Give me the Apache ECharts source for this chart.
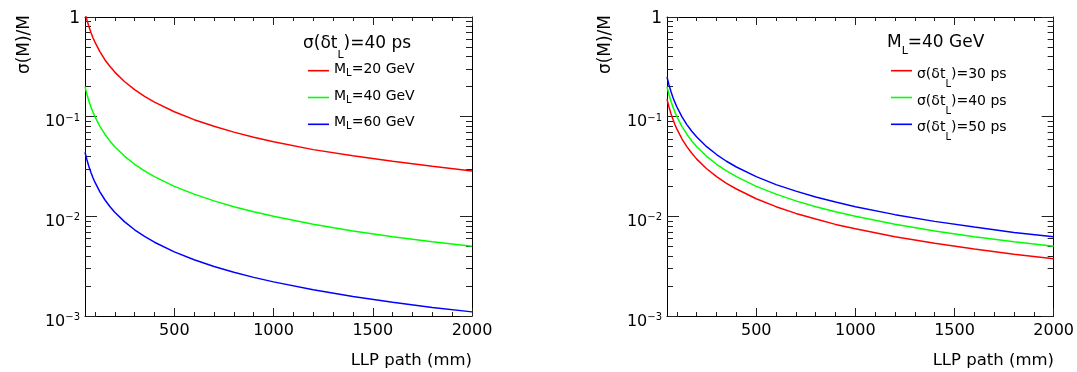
<!DOCTYPE html>
<html><head><meta charset="utf-8">
<script src="https://cdn.jsdelivr.net/npm/echarts@6/dist/echarts.min.js"></script>
<style>html,body{margin:0;padding:0;background:#fff}#c{width:1077px;height:372px}</style>
</head><body><div id="c"></div>
<script>
const FONT = "'DejaVu Sans', 'Liberation Sans', Arial, sans-serif";

// LLP path (mm)
const pathMM = [50,60,70,80,90,100,125,150,175,200,250,300,350,400,500,600,700,800,900,1000,1200,1400,1600,1800,2000];
// left panel: sigma(dt_L)=40 ps
const mass20 = [1.12,0.93,0.80,0.70,0.62,0.56,0.45,0.373,0.32,0.28,0.224,0.187,0.16,0.14,0.112,0.0933,0.08,0.07,0.0622,0.056,0.0467,0.0405,0.0357,0.0318,0.0285];
const mass40 = [0.2,0.167,0.143,0.125,0.111,0.1,0.08,0.0667,0.0571,0.05,0.04,0.0333,0.0286,0.025,0.02,0.0167,0.0143,0.0125,0.0111,0.01,0.00833,0.00714,0.00625,0.00556,0.005];
const mass60 = [0.044,0.0367,0.0314,0.0275,0.0244,0.022,0.0176,0.01467,0.01257,0.011,0.0088,0.00733,0.00629,0.0055,0.0044,0.00367,0.00314,0.00275,0.00244,0.0022,0.00183,0.00157,0.001375,0.00122,0.0011];
// right panel: M_L=40 GeV
const res30 = [0.15,0.125,0.107,0.094,0.083,0.075,0.06,0.05,0.0429,0.0375,0.03,0.025,0.0214,0.0188,0.015,0.0125,0.0107,0.0094,0.0083,0.0075,0.00625,0.00536,0.00469,0.00417,0.00375];
const res40 = [0.2,0.167,0.143,0.125,0.111,0.1,0.08,0.0667,0.0571,0.05,0.04,0.0333,0.0286,0.025,0.02,0.0167,0.0143,0.0125,0.0111,0.01,0.00833,0.00714,0.00625,0.00556,0.005];
const res50 = [0.25,0.208,0.179,0.156,0.139,0.125,0.1,0.0833,0.0714,0.0625,0.05,0.0417,0.0357,0.03125,0.025,0.0208,0.0179,0.0156,0.0139,0.0125,0.0104,0.0089,0.0078,0.0069,0.00625];

const xMajorTicks = [500,1000,1500,2000];
const xMinorTicks = [100,200,300,400,600,700,800,900,1100,1200,1300,1400,1600,1700,1800,1900];
const yMajorTicks = [0.001,0.01,0.1,1];
const yMinorTicks = [0.002,0.003,0.004,0.005,0.006,0.007,0.008,0.009,0.02,0.03,0.04,0.05,0.06,0.07,0.08,0.09,0.2,0.3,0.4,0.5,0.6,0.7,0.8,0.9];

const leftLegend = ['M_L=20 GeV','M_L=40 GeV','M_L=60 GeV'];
const rightLegend = ['σ(δt_L)=30 ps','σ(δt_L)=40 ps','σ(δt_L)=50 ps'];
const colors = ['#ff0000','#00ff00','#0000ff'];

const chart = echarts.init(document.getElementById('c'), null, {renderer:'canvas'});
const TICK = {color:'#222', width:1};

function xAxes(g){
  const base = {type:'value', gridIndex:g, min:50, max:2000, splitLine:{show:false}, axisLabel:{show:false}, axisLine:{show:false}, axisTick:{show:false}};
  return [
    Object.assign({}, base, {position:'bottom',
      axisLine:{show:true, lineStyle:{color:'#000', width:1}},
      axisLabel:{show:true, customValues:xMajorTicks, margin:7, fontSize:16, color:'#000', fontFamily:FONT, formatter:v=>String(v)}}),
    Object.assign({}, base, {position:'bottom', axisTick:{show:true, inside:true, length:8, customValues:xMajorTicks, lineStyle:TICK}}),
    Object.assign({}, base, {position:'bottom', axisTick:{show:true, inside:true, length:4, customValues:xMinorTicks, lineStyle:TICK}}),
    Object.assign({}, base, {position:'top', axisLine:{show:true, lineStyle:{color:'#000', width:1}},
      axisTick:{show:true, inside:true, length:8, customValues:xMajorTicks, lineStyle:TICK}}),
    Object.assign({}, base, {position:'top', axisTick:{show:true, inside:true, length:4, customValues:xMinorTicks, lineStyle:TICK}})
  ];
}
function yFmt(v){
  const e = Math.round(Math.log10(v));
  if (e === 0) return '{o|1}';
  return '{b|10}{s|\u2212' + (-e) + '}';
}
function yAxes(g){
  const base = {type:'log', logBase:10, gridIndex:g, min:0.001, max:1, splitLine:{show:false}, axisLabel:{show:false}, axisLine:{show:false}, axisTick:{show:false}};
  return [
    Object.assign({}, base, {position:'left',
      axisLine:{show:true, lineStyle:{color:'#000', width:1}},
      axisLabel:{show:true, margin:5, formatter:yFmt, rich:{
        o:{fontSize:17, fontFamily:FONT, color:'#000', padding:[4,0,0,0]},
        b:{fontSize:16, fontFamily:FONT, color:'#000', padding:[11,0,0,0]},
        s:{fontSize:10, fontFamily:FONT, color:'#000', padding:[3,0,0,0]}}}}),
    Object.assign({}, base, {position:'left', axisTick:{show:true, inside:true, length:12, customValues:yMajorTicks, lineStyle:TICK}}),
    Object.assign({}, base, {position:'left', axisTick:{show:true, inside:true, length:6, customValues:yMinorTicks, lineStyle:TICK}}),
    Object.assign({}, base, {position:'right', axisLine:{show:true, lineStyle:{color:'#000', width:1}},
      axisTick:{show:true, inside:true, length:12, customValues:yMajorTicks, lineStyle:TICK}}),
    Object.assign({}, base, {position:'right', axisTick:{show:true, inside:true, length:6, customValues:yMinorTicks, lineStyle:TICK}})
  ];
}

function mkSeries(name, ys, color, g){
  return {type:'line', name:name, xAxisIndex:g*5, yAxisIndex:g*5, data:pathMM.map((x,i)=>[x, ys[i]]),
    symbol:'none', showSymbol:false, clip:true, silent:true,
    lineStyle:{color:color, width:1.5}, itemStyle:{color:color}};
}

const richM = {a:{fontSize:14, fontFamily:FONT, color:'#000', lineHeight:17, verticalAlign:'top'},
               s:{fontSize:10, fontFamily:FONT, color:'#000', lineHeight:10, verticalAlign:'top', padding:[6,0,0,0]}};
const richS = {a:{fontSize:14, fontFamily:FONT, color:'#000', lineHeight:17, verticalAlign:'top', padding:[5,0,0,0]},
               s:{fontSize:10, fontFamily:FONT, color:'#000', lineHeight:10, verticalAlign:'top', padding:[17,0,0,0]}};
function richName(n){
  const i = n.indexOf('_');
  return '{a|' + n.slice(0,i) + '}{s|' + n.charAt(i+1) + '}{a|' + n.slice(i+2) + '}';
}
const rowY = [70.7, 97.5, 124.3];
const legends = [];
leftLegend.forEach((n,i)=>legends.push({data:[n], left:308, top:rowY[i]-8.5, orient:'vertical', padding:0,
  itemWidth:21, itemHeight:1.6, icon:'rect', selectedMode:false, formatter:richName, textStyle:{rich:richM}}));
rightLegend.forEach((n,i)=>legends.push({data:[n], left:891, top:rowY[i]-8.5, orient:'vertical', padding:0,
  itemWidth:21, itemHeight:1.6, icon:'rect', selectedMode:false, formatter:richName, textStyle:{rich:richS}}));

const headRich = (P)=>({a:{fontSize:17, fontFamily:FONT, fontWeight:'normal', color:'#000', lineHeight:20, verticalAlign:'top'},
  s:{fontSize:11, fontFamily:FONT, fontWeight:'normal', color:'#000', lineHeight:11, verticalAlign:'top', padding:[P,0,0,0]}});

const option = {
  animation:false,
  backgroundColor:'#fff',
  grid:[{left:85, top:17, width:387, height:299},{left:667, top:17, width:387, height:299}],
  xAxis:[...xAxes(0), ...xAxes(1)],
  yAxis:[...yAxes(0), ...yAxes(1)],
  title:[
    {text:'{a|σ(δt}{s|L}{a|)=40 ps}', left:303, top:35, padding:0, textStyle:{fontWeight:'normal', rich:headRich(15)}},
    {text:'{a|M}{s|L}{a|=40 GeV}', left:887, top:34, padding:0, textStyle:{fontWeight:'normal', rich:headRich(12)}}
  ],
  legend:legends,
  series:[
    mkSeries(leftLegend[0], mass20, colors[0], 0),
    mkSeries(leftLegend[1], mass40, colors[1], 0),
    mkSeries(leftLegend[2], mass60, colors[2], 0),
    mkSeries(rightLegend[0], res30, colors[0], 1),
    mkSeries(rightLegend[1], res40, colors[1], 1),
    mkSeries(rightLegend[2], res50, colors[2], 1)
  ],
  graphic:[
    {type:'text', x:25, y:15, rotation:Math.PI/2, style:{text:'σ(M)/M', font:'17px ' + FONT, fill:'#000', align:'right', verticalAlign:'middle'}},
    {type:'text', x:606, y:15, rotation:Math.PI/2, style:{text:'σ(M)/M', font:'17px ' + FONT, fill:'#000', align:'right', verticalAlign:'middle'}},
    {type:'text', x:472, y:361, style:{text:'LLP path (mm)', font:'16.5px ' + FONT, fill:'#000', align:'right', verticalAlign:'middle'}},
    {type:'text', x:1054, y:361, style:{text:'LLP path (mm)', font:'16.5px ' + FONT, fill:'#000', align:'right', verticalAlign:'middle'}}
  ]
};
chart.setOption(option);
</script>
</body></html>
